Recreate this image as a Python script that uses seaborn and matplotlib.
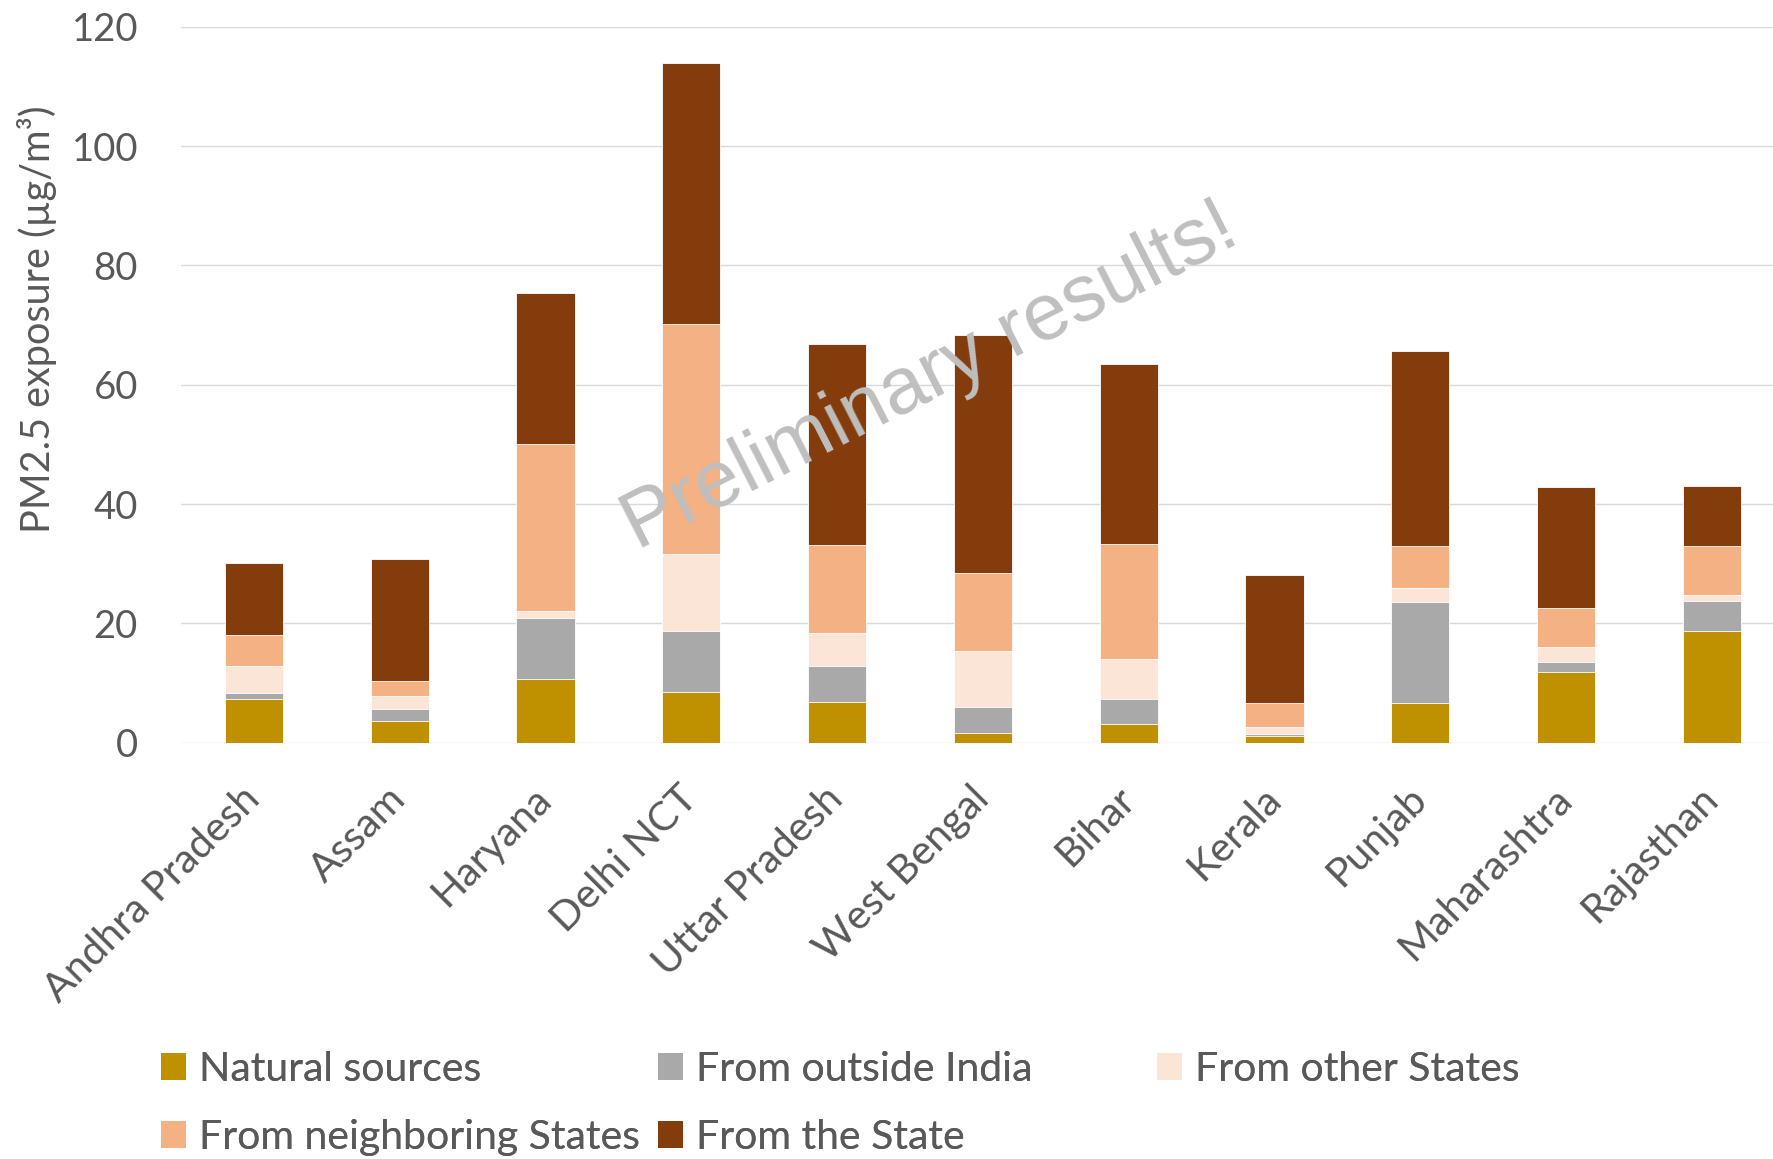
import numpy as np
import pandas as pd
import matplotlib
matplotlib.use("Agg")
import matplotlib.pyplot as plt
from matplotlib.patches import Patch
import seaborn as sns

# States and source-apportioned PM2.5 exposure (µg/m³)
states = ["Andhra Pradesh", "Assam", "Haryana", "Delhi NCT", "Uttar Pradesh",
          "West Bengal", "Bihar", "Kerala", "Punjab", "Maharashtra", "Rajasthan"]
natural_sources = [7.4, 3.6, 10.7, 8.5, 6.8, 1.6, 3.2, 1.2, 6.7, 11.9, 18.8]
outside_india = [0.9, 2.0, 10.2, 10.3, 6.0, 4.4, 4.1, 0.3, 16.8, 1.7, 5.0]
other_states = [4.5, 2.2, 1.1, 12.8, 5.6, 9.3, 6.7, 1.2, 2.5, 2.4, 0.9]
neighboring_states = [5.2, 2.5, 28.0, 38.5, 14.7, 13.1, 19.3, 3.9, 7.0, 6.6, 8.3]
from_state = [12.2, 20.5, 25.3, 43.8, 33.8, 40.0, 30.1, 21.5, 32.7, 20.3, 10.1]

series_names = ["Natural sources", "From outside India", "From other States",
                "From neighboring States", "From the State"]
series_values = [natural_sources, outside_india, other_states,
                 neighboring_states, from_state]
series_colors = ["#BF9000", "#A9A9A9", "#FBE5D6", "#F4B183", "#843C0C"]

y_ticks = [0, 20, 40, 60, 80, 100, 120]

sns.set_style("white")
plt.rcParams["font.family"] = ["Lato", "DejaVu Sans"]
text_color = "#595959"

W, H = 1774, 1159
fig = plt.figure(figsize=(W / 100, H / 100), dpi=100)
ax = fig.add_axes([181 / W, 1 - 742.7 / H, (W - 181) / W, (742.7 - 26.7) / H])

# Stacked bars: draw cumulative totals from the top layer down
cum = np.cumsum(np.array(series_values), axis=0)
for i in range(len(series_names) - 1, -1, -1):
    df = pd.DataFrame({"state": states, "value": cum[i]})
    sns.barplot(data=df, x="state", y="value", color=series_colors[i],
                width=0.4, saturation=1, edgecolor="white", linewidth=0.6,
                ax=ax, zorder=2)

ax.set_ylim(0, 120)
ax.set_xlim(-0.5, -0.5 + (W - 181) / 145.8)
ax.set_yticks(y_ticks)
ax.yaxis.grid(True, color="#D9D9D9", linewidth=1.0, zorder=0)
ax.xaxis.grid(False)
ax.set_axisbelow(True)
for side in ["top", "right", "left", "bottom"]:
    ax.spines[side].set_visible(False)
ax.tick_params(axis="both", length=0, colors=text_color, labelsize=27.5)
ax.tick_params(axis="y", pad=31)
ax.tick_params(axis="x", pad=36)
ax.set_xlabel("")
ax.set_ylabel("PM2.5 exposure (µg/m³)", fontsize=28.5, color=text_color)
ax.yaxis.set_label_coords(-(181 - 57) / (W - 181), (742.7 - 319) / 716)
ax.set_xticks(range(len(states)))
ax.set_xticklabels(states, rotation=45, ha="right", va="center",
                   rotation_mode="anchor", color=text_color, fontsize=29.5)

# Watermark
fig.text(930 / W, 1 - 378 / H, "Preliminary results!", rotation=27,
         ha="center", va="center", fontsize=57.5, color="#BFBFBF",
         family="Liberation Sans", zorder=10)

# Legend laid out as three fixed-width columns
handles = {n: Patch(facecolor=c, edgecolor="none")
           for n, c in zip(series_names, series_colors)}
columns = [["Natural sources", "From neighboring States"],
           ["From outside India", "From the State"],
           ["From other States"]]
col_x = [161, 658, 1157]
for names, x in zip(columns, col_x):
    leg = fig.legend([handles[n] for n in names], names, loc="upper left",
                     bbox_to_anchor=(x / W, 1 - 1051 / H), frameon=False,
                     borderpad=0, borderaxespad=0, fontsize=29.5,
                     handlelength=0.62, handleheight=0.62, handletextpad=0.3,
                     labelspacing=0.75, labelcolor=text_color)
    fig.add_artist(leg)

fig.savefig("out.png", dpi=100, facecolor="white")
